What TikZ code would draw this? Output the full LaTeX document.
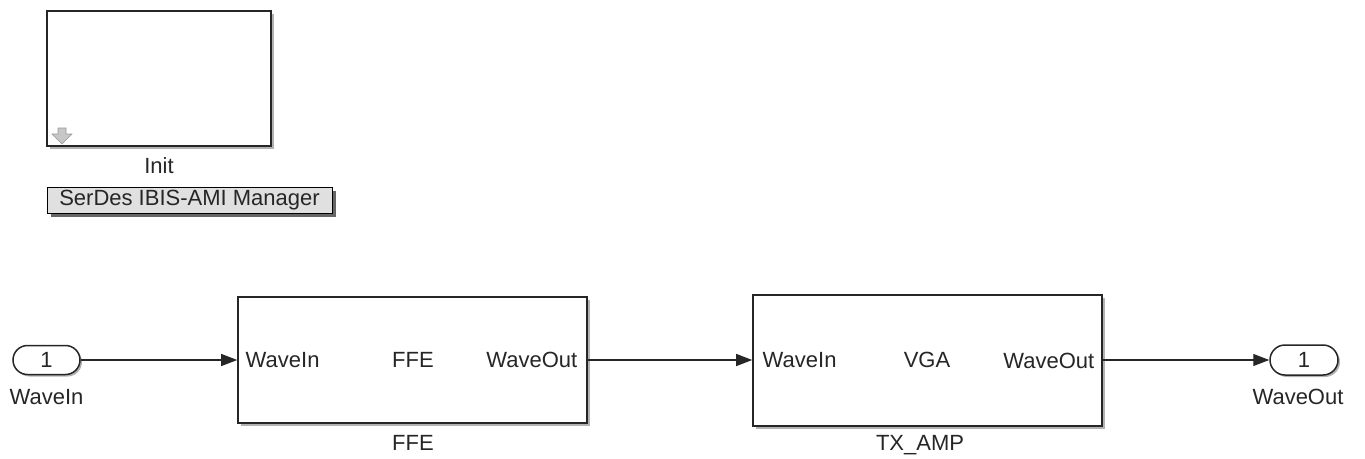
\documentclass[tikz,border=0pt]{standalone}
\usepackage{fontspec}
\setmainfont{Liberation Sans}
\usetikzlibrary{shadows,arrows.meta,shapes.misc}
\begin{document}
\begin{tikzpicture}[x=1pt,y=-1pt,
  font=\fontsize{22}{25}\selectfont,
  txt/.style={text=black!85},
  blk/.style={draw=black!85,line width=1.6pt,fill=white,inner sep=0pt,
    drop shadow={shadow xshift=3pt,shadow yshift=-3pt,fill=black,opacity=0.3}},
  port/.style={draw=black!85,line width=1.5pt,fill=white,rounded rectangle,inner sep=0pt,
    minimum width=67pt,minimum height=29pt,
    drop shadow={shadow xshift=2pt,shadow yshift=-2pt,fill=black,opacity=0.3}},
  mgr/.style={draw=black,line width=1pt,fill=black!12,inner sep=0pt,
    minimum width=285pt,minimum height=26pt,
    drop shadow={shadow xshift=4pt,shadow yshift=-4pt,fill=black,opacity=0.6}},
  wire/.style={draw=black!85,line width=1.2pt,-{Triangle[length=16pt,width=12pt]}}
]
\useasboundingbox (0,0) rectangle (1365,458);
% Init block
\node[blk,minimum width=224pt,minimum height=135pt] (init) at (159,78.5) {};
\node[txt] (initlbl) at (159,166) {Init};
\fill[black!22,draw=black!40,line width=0.6pt] (58,128) -- (66,128) -- (66,134) -- (72,134) -- (62,144) -- (52,134) -- (58,134) -- cycle;
% Manager
\node[mgr,txt] (mgr) at (189.5,200) {SerDes IBIS-AMI Manager};
% Ports
\node[port,txt] (pin) at (46.5,360) {1};
\node[txt] (pinlbl) at (46.5,397) {WaveIn};
\node[port,txt,minimum width=68pt,minimum height=30pt] (pout) at (1304,360) {1};
\node[txt] (poutlbl) at (1298,397) {WaveOut};
% FFE block
\node[blk,minimum width=349pt,minimum height=126pt] (ffe) at (412.5,360) {};
\node[txt,anchor=west] (ffein) at ([xshift=5pt]ffe.west) {WaveIn};
\node[txt] (ffemid) at (413,360) {FFE};
\node[txt,anchor=east] (ffeout) at ([xshift=-7pt]ffe.east) {WaveOut};
\node[txt] (ffelbl) at (413,443) {FFE};
% VGA block
\node[blk,minimum width=349pt,minimum height=131pt] (vga) at (927.5,360.5) {};
\node[txt,anchor=west] (vgain) at ([xshift=7pt]vga.west) {WaveIn};
\node[txt] (vgamid) at (927,360) {VGA};
\node[txt,anchor=east] (vgaout) at ([xshift=-5pt]vga.east) {WaveOut};
\node[txt] (vgalbl) at (920,445) {TX\_AMP};
% Wires
\draw[wire] (pin.east) -- (ffe.west |- pin.east);
\draw[wire] (ffe.east) -- (vga.west |- ffe.east);
\draw[wire] (vga.east |- pout.west) -- (pout.west);
\end{tikzpicture}
\end{document}
